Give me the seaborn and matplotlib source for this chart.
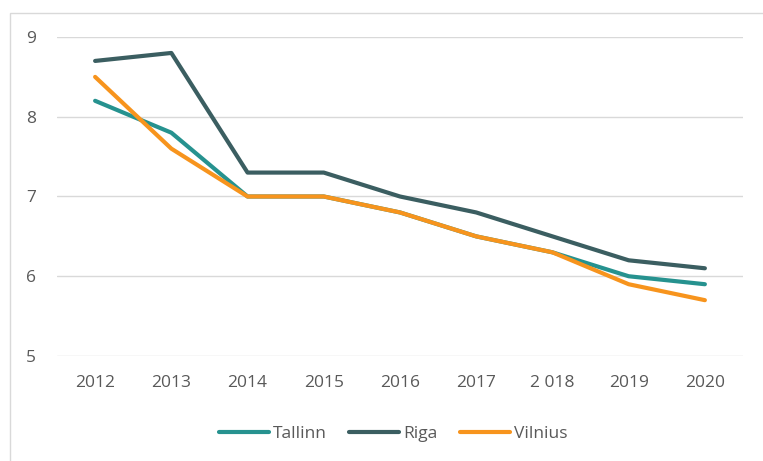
import matplotlib
matplotlib.use("Agg")
import matplotlib.pyplot as plt
from matplotlib.patches import Rectangle
import seaborn as sns
import pandas as pd

years = ["2012", "2013", "2014", "2015", "2016", "2017", "2 018", "2019", "2020"]
tallinn = [8.2, 7.8, 7.0, 7.0, 6.8, 6.5, 6.3, 6.0, 5.9]
riga = [8.7, 8.8, 7.3, 7.3, 7.0, 6.8, 6.5, 6.2, 6.1]
vilnius = [8.5, 7.6, 7.0, 7.0, 6.8, 6.5, 6.3, 5.9, 5.7]

cities = ["Tallinn", "Riga", "Vilnius"]
colors = ["#26928F", "#3B5E61", "#F7941D"]


def build_frame():
    rows = []
    for city, vals in zip(cities, [tallinn, riga, vilnius]):
        for i, v in enumerate(vals):
            rows.append({"pos": i, "year": years[i], "value": v, "city": city})
    return pd.DataFrame(rows)


def main():
    df = build_frame()
    sns.set_theme(style="white")
    plt.rcParams["font.family"] = ["Open Sans", "DejaVu Sans"]

    fig = plt.figure(figsize=(7.63, 4.61), dpi=100)
    ax = fig.add_axes([57 / 763, 105 / 461, 686 / 763, 319 / 461])

    sns.lineplot(data=df, x="pos", y="value", hue="city", hue_order=cities,
                 palette=colors, linewidth=3.0, ax=ax, legend=False,
                 solid_capstyle="round", solid_joinstyle="round")

    ax.set_xlim(-0.5, 8.5)
    ax.set_ylim(5, 9)
    ax.set_yticks([5, 6, 7, 8, 9])
    ax.set_xticks(range(len(years)))
    ax.set_xticklabels(years)
    ax.set_xlabel("")
    ax.set_ylabel("")
    ax.grid(axis="y", color="#D9D9D9", linewidth=1)
    ax.set_axisbelow(True)
    for s in ax.spines.values():
        s.set_visible(False)
    ax.tick_params(axis="y", length=0, pad=15, labelsize=12.5, labelcolor="#595959")
    ax.tick_params(axis="x", length=0, pad=14, labelsize=12.5, labelcolor="#595959")

    handles = [plt.Line2D([], [], color=c, linewidth=3.0, solid_capstyle="round") for c in colors]
    fig.legend(handles, cities, loc="center", bbox_to_anchor=(0.515, 1 - 434 / 461),
               ncol=3, frameon=False, fontsize=12.5, labelcolor="#595959",
               handlelength=2.9, handletextpad=0.2, columnspacing=1.3)

    fig.add_artist(Rectangle((10 / 763, -0.05), 1.2, (448 / 461) + 0.05,
                             transform=fig.transFigure, fill=False,
                             edgecolor="#D9D9D9", linewidth=1))

    fig.savefig("out.png", dpi=100)


if __name__ == "__main__":
    main()
